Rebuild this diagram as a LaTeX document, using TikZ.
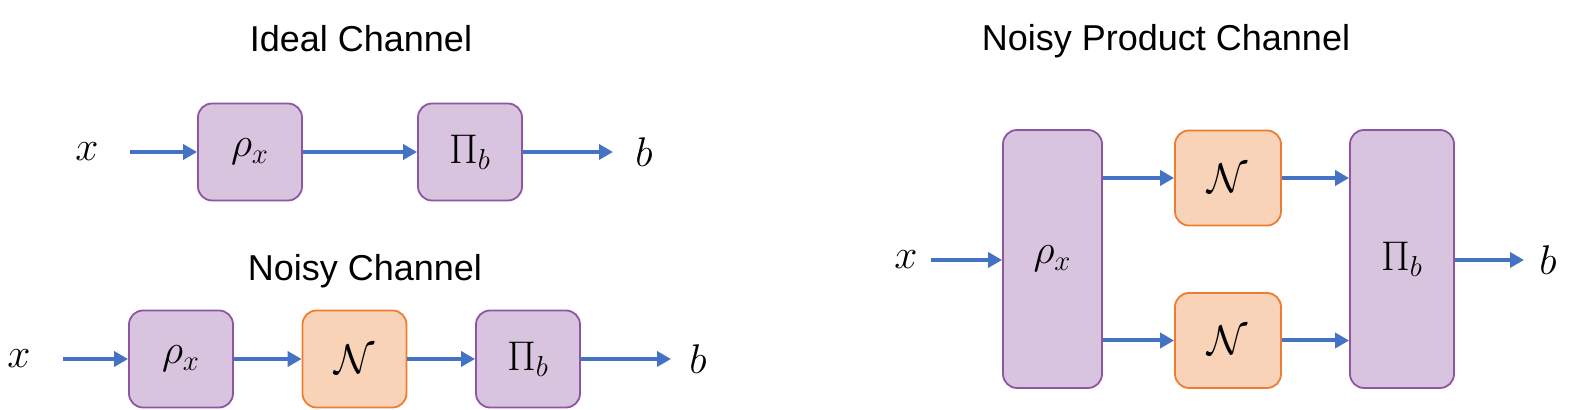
\documentclass[tikz,border=0pt]{standalone}
\usepackage{fontspec}
\setmainfont{Liberation Sans}
\usetikzlibrary{arrows.meta}
\definecolor{pfill}{HTML}{D8C4DE}
\definecolor{pdraw}{HTML}{8E55A2}
\definecolor{ofill}{HTML}{F8D3B8}
\definecolor{odraw}{HTML}{ED7D31}
\definecolor{ablue}{HTML}{4472C4}
\tikzset{
  pbox/.style={draw=pdraw, fill=pfill, line width=0.9pt, rounded corners=7pt, minimum width=52pt, minimum height=48.5pt, inner sep=0pt, font=\fontsize{22}{24}\selectfont},
  obox/.style={draw=odraw, fill=ofill, line width=0.9pt, rounded corners=7pt, minimum width=52pt, minimum height=48.5pt, inner sep=0pt, font=\fontsize{22}{24}\selectfont},
  lbl/.style={inner sep=0pt, font=\fontsize{20}{22}\selectfont},
  ttl/.style={inner sep=0pt, anchor=base, font=\fontsize{18}{20}\selectfont},
  arr/.style={draw=ablue, line width=2pt, -{Triangle[length=7pt,width=7.5pt]}, shorten >=0pt},
}
\begin{document}
\begin{tikzpicture}[x=0.5pt,y=-0.5pt]
\useasboundingbox (0,0) rectangle (1587,410);
% Ideal channel
\node[ttl] (t1) at (361,52) {Ideal Channel};
\node[lbl] (ix) at (87,152) {$x$};
\coordinate (ixs) at (130,152);
\node[pbox] (irho) at (250,152) {$\rho_x$};
\node[pbox] (ipi) at (470,152) {$\Pi_b$};
\coordinate (ibe) at (613,152);
\node[lbl] (ib) at (644,152) {$b$};
\draw[arr] (ixs) -- (irho);
\draw[arr] (irho) -- (ipi);
\draw[arr] (ipi) -- (ibe);
% Noisy channel
\node[ttl] (t2) at (365,281) {Noisy Channel};
\node[lbl] (nx) at (19,359) {$x$};
\coordinate (nxs) at (63,359);
\node[pbox] (nrho) at (181,359) {$\rho_x$};
\node[obox] (nn) at (354.5,359) {$\mathcal{N}$};
\node[pbox] (npi) at (528,359) {$\Pi_b$};
\coordinate (nbe) at (671,359);
\node[lbl] (nb) at (698,359) {$b$};
\draw[arr] (nxs) -- (nrho);
\draw[arr] (nrho) -- (nn);
\draw[arr] (nn) -- (npi);
\draw[arr] (npi) -- (nbe);
% Noisy product channel
\node[ttl] (t3) at (1166,51) {Noisy Product Channel};
\node[lbl] (px) at (906,260) {$x$};
\coordinate (pxs) at (931,260);
\node[pbox, minimum width=49.5pt, minimum height=129pt] (prho) at (1052.5,259) {$\rho_x$};
\node[obox, minimum width=53pt, minimum height=47.5pt] (pn1) at (1228,178) {$\mathcal{N}$};
\node[obox, minimum width=53pt, minimum height=47.5pt] (pn2) at (1228,340.5) {$\mathcal{N}$};
\node[pbox, minimum width=52pt, minimum height=129pt] (ppi) at (1402,259) {$\Pi_b$};
\coordinate (pbe) at (1524,260);
\node[lbl] (pb) at (1548,260) {$b$};
\draw[arr] (pxs) -- (pxs -| prho.west);
\draw[arr] (prho.east |- pn1) -- (pn1);
\draw[arr] (prho.east |- pn2) -- (pn2);
\draw[arr] (pn1) -- (pn1 -| ppi.west);
\draw[arr] (pn2) -- (pn2 -| ppi.west);
\draw[arr] (ppi.east |- pbe) -- (pbe);
\end{tikzpicture}
\end{document}
